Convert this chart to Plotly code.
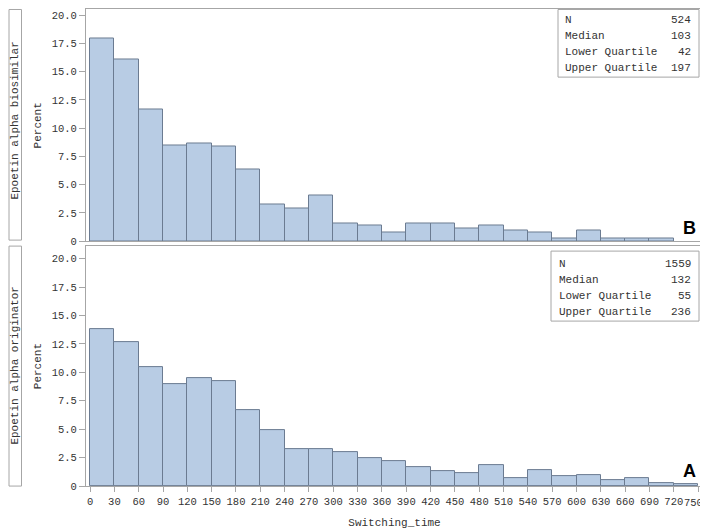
import plotly.graph_objects as go

# ---- data ----
bin_starts = [0, 30, 60, 90, 120, 150, 180, 210, 240, 270, 300, 330, 360, 390, 420,
              450, 480, 510, 540, 570, 600, 630, 660, 690, 720]
bin_width = 30

biosimilar_pct = [17.94, 16.03, 11.64, 8.50, 8.62, 8.40, 6.30, 3.24, 2.86, 4.01, 1.53,
                  1.34, 0.76, 1.53, 1.53, 1.15, 1.34, 0.95, 0.76, 0.19, 0.95, 0.19,
                  0.19, 0.19]
originator_pct = [13.79, 12.68, 10.47, 8.97, 9.50, 9.24, 6.68, 4.91, 3.24, 3.26, 2.97,
                  2.43, 2.20, 1.67, 1.32, 1.17, 1.82, 0.70, 1.41, 0.85, 0.94, 0.53,
                  0.67, 0.26, 0.18]

row_labels = ["Epoetin alpha biosimilar", "Epoetin alpha originator"]
panel_letters = ["B", "A"]
stat_names = ["N", "Median", "Lower Quartile", "Upper Quartile"]
biosimilar_stats = ["524", "103", "42", "197"]
originator_stats = ["1559", "132", "55", "236"]

x_ticks = list(range(0, 751, 30))
x_ticklabels = [str(v) for v in x_ticks]
y_ticks = [0, 2.5, 5, 7.5, 10, 12.5, 15, 17.5, 20]
y_ticklabels = ["0", "2.5", "5.0", "7.5", "10.0", "12.5", "15.0", "17.5", "20.0"]

# ---- styling ----
W, H = 700, 530
OFF = 8          # page body margin
VS = 0.985       # observed vertical scale of the snapshot
FONT = "Liberation Mono, Courier New, monospace"
TXT = "#333333"
BAR_FILL = "#b8cce4"
BAR_LINE = "#6b7b91"
FRAME = "#a6a6a6"


def px(x):
    """target picture x pixel -> paper fraction"""
    return (x - OFF) / W


def fy(y):
    """target picture y pixel -> figure pixel"""
    return max(y / VS - OFF, 0.5)


def py(y):
    """target picture y pixel -> paper fraction"""
    return 1 - fy(y) / H


fig = go.Figure()

centers = [s + bin_width / 2 for s in bin_starts]
fig.add_trace(go.Bar(x=centers[:len(biosimilar_pct)], y=biosimilar_pct, width=bin_width,
                     marker=dict(color=BAR_FILL, line=dict(color=BAR_LINE, width=1)),
                     xaxis="x2", yaxis="y2", showlegend=False))
fig.add_trace(go.Bar(x=centers[:len(originator_pct)], y=originator_pct, width=bin_width,
                     marker=dict(color=BAR_FILL, line=dict(color=BAR_LINE, width=1)),
                     xaxis="x", yaxis="y", showlegend=False))

xdom = [px(86), px(703)]
ydom_bottom = [py(485), py(245)]
ydom_top = [py(240), py(1)]
xrange = [-5, 756]
# top panel: 0 at y=240, 20 at y=14 in the target picture
top_unit = 20 / (fy(240) - fy(14))
top_max = (fy(240) - fy(1)) * top_unit


def yaxis_style():
    return dict(tickvals=y_ticks, ticktext=y_ticklabels, ticks="outside",
                ticklen=6, tickcolor=FRAME, showline=True, linecolor=FRAME, mirror=True,
                showgrid=False, zeroline=False,
                tickfont=dict(family=FONT, size=10.5, color=TXT),
                title=dict(text="Percent", font=dict(family=FONT, size=11, color=TXT),
                           standoff=7))


# the last tick label sits at the very edge of the page; it is drawn as an
# annotation nudged inward so it cannot widen the page
axis_ticktext = x_ticklabels[:-1] + [""]

fig.update_layout(
    width=W, height=H,
    margin=dict(l=0, r=0, t=0, b=0),
    paper_bgcolor="white", plot_bgcolor="white",
    bargap=0,
    xaxis=dict(domain=xdom, range=xrange, tickvals=x_ticks, ticktext=axis_ticktext,
               ticks="outside", ticklen=5,
               tickcolor=FRAME, showline=True, linecolor=FRAME, mirror=True,
               showgrid=False, zeroline=False, anchor="y",
               tickfont=dict(family=FONT, size=10.5, color=TXT),
               title=dict(text="Switching_time", font=dict(family=FONT, size=11, color=TXT),
                          standoff=11)),
    xaxis2=dict(domain=xdom, range=xrange, matches="x", showticklabels=False, ticks="",
                showline=True, linecolor=FRAME, mirror=True, showgrid=False,
                zeroline=False, anchor="y2"),
    yaxis=dict(domain=ydom_bottom, anchor="x", range=[0, 21.1], **yaxis_style()),
    yaxis2=dict(domain=ydom_top, anchor="x2", range=[0, top_max], **yaxis_style()),
)

fig.add_annotation(xref="x", yref="paper", x=x_ticks[-1], y=py(502), xshift=-5,
                   xanchor="center", yanchor="middle", text=x_ticklabels[-1],
                   showarrow=False, font=dict(family=FONT, size=10.5, color=TXT))

# row label boxes
for (y0, y1), label in zip([(1, 239), (245, 485)], row_labels):
    fig.add_shape(type="rect", xref="paper", yref="paper",
                  x0=px(9), x1=px(21.5), y0=py(y1), y1=py(y0),
                  line=dict(color=FRAME, width=1), fillcolor="white")
    fig.add_annotation(xref="paper", yref="paper", x=px(15.5), y=py((y0 + y1) / 2),
                       xanchor="center", yanchor="middle",
                       text=label, textangle=-90, showarrow=False,
                       font=dict(family=FONT, size=11, color=TXT))

# inset stat tables
tables = [
    dict(stats=biosimilar_stats, box=(558, 6, 699, 76), lx=563, rx=693,
         rows=[19, 35, 51, 67]),
    dict(stats=originator_stats, box=(551, 250, 699, 320), lx=557, rx=693,
         rows=[263, 279, 295, 311]),
]
for t in tables:
    x0, y0, x1, y1 = t["box"]
    fig.add_shape(type="rect", xref="paper", yref="paper",
                  x0=px(x0), x1=px(x1), y0=py(y1), y1=py(y0),
                  line=dict(color=FRAME, width=1), fillcolor="white")
    for name, val, ry in zip(stat_names, t["stats"], t["rows"]):
        fig.add_annotation(xref="paper", yref="paper", x=px(t["lx"]), y=py(ry),
                           xanchor="left", yanchor="middle", text=name, showarrow=False,
                           font=dict(family=FONT, size=11, color=TXT))
        fig.add_annotation(xref="paper", yref="paper", x=px(t["rx"]), y=py(ry),
                           xanchor="right", yanchor="middle", text=val, showarrow=False,
                           font=dict(family=FONT, size=11, color=TXT))

# panel letters
for letter, ly in zip(panel_letters, [227, 470]):
    fig.add_annotation(xref="paper", yref="paper", x=px(698), y=py(ly),
                       xanchor="right", yanchor="middle", text="<b>%s</b>" % letter,
                       showarrow=False,
                       font=dict(family="Liberation Sans, Arial, sans-serif", size=18,
                                 color="black"))

fig.write_html("out.html")
